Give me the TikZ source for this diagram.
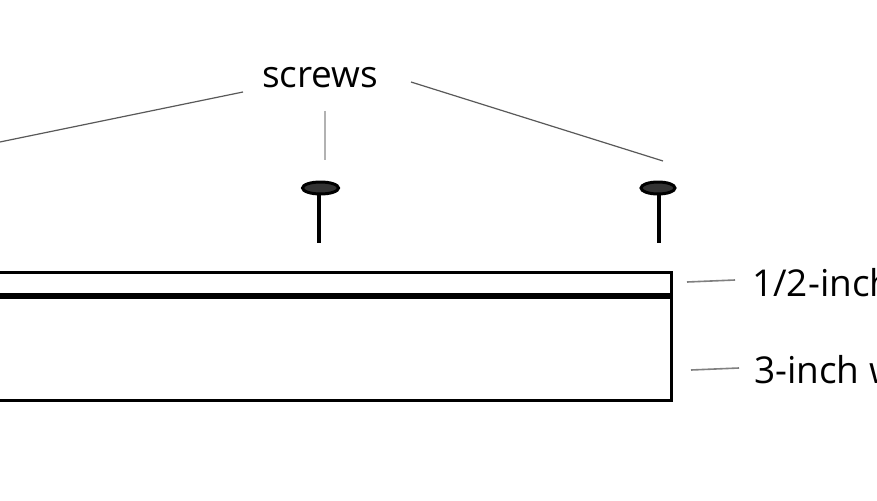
\documentclass[tikz,border=0pt]{standalone}
\usepackage{fontspec}
\setmainfont{Open Sans}
\tikzset{
  board/.style={draw=black,line width=3.4pt},
  seam/.style={draw=black,line width=6pt},
  shaft/.style={draw=black,line width=3.4pt},
  head/.style={ellipse,draw=black,line width=3pt,fill=black!80,inner sep=0pt,minimum width=36pt,minimum height=12pt},
  leader/.style={draw=black!65,line width=1.2pt},
  leaderlight/.style={draw=black!30,line width=2.4pt},
  leaderthin/.style={draw=black!50,line width=1.6pt},
  lab/.style={font=\fontsize{37}{40}\selectfont,text=black,inner sep=0pt,anchor=base west}
}
\usetikzlibrary{shapes.geometric}
\begin{document}
\begin{tikzpicture}[x=1pt,y=-1pt]
\useasboundingbox (0,0) rectangle (877,500);
\clip (0,0) rectangle (877,500);
\fill[white] (0,0) rectangle (877,500);
% boards
\coordinate (tl) at (-10,272.5);
\coordinate (tr) at (671.5,272.5);
\coordinate (br) at (671.5,400.5);
\coordinate (bl) at (-10,400.5);
\coordinate (sl) at (-10,295.5);
\coordinate (sr) at (671.5,295.5);
\draw[board] (tl) -- (tr) -- (br) -- (bl);
\draw[seam] (sl) -- (sr);
% screws
\node[head] (h1) at (320.5,188) {};
\node[head,minimum width=34pt] (h2) at (658,188) {};
\coordinate (s1) at (319,243);
\coordinate (s2) at (659,243);
\draw[shaft] (319,193) -- (s1);
\draw[shaft] (659,193) -- (s2);
% labels
\node[lab] (screws) at (262,88) {screws};
\node[lab] (half) at (752,296) {1/2-inch};
\node[lab] (three) at (754,383) {3-inch w};
% leaders
\coordinate (a1) at (243,92);
\coordinate (a2) at (-5,143);
\coordinate (b1) at (325,111);
\coordinate (b2) at (325,160);
\coordinate (c1) at (411,82);
\coordinate (c2) at (663,161);
\coordinate (d1) at (687,282);
\coordinate (d2) at (735,280);
\coordinate (e1) at (691,370);
\coordinate (e2) at (739,368);
\draw[leader] (a1) -- (a2);
\draw[leaderlight] (b1) -- (b2);
\draw[leader] (c1) -- (c2);
\draw[leaderthin] (d1) -- (d2);
\draw[leaderthin] (e1) -- (e2);
\end{tikzpicture}
\end{document}
